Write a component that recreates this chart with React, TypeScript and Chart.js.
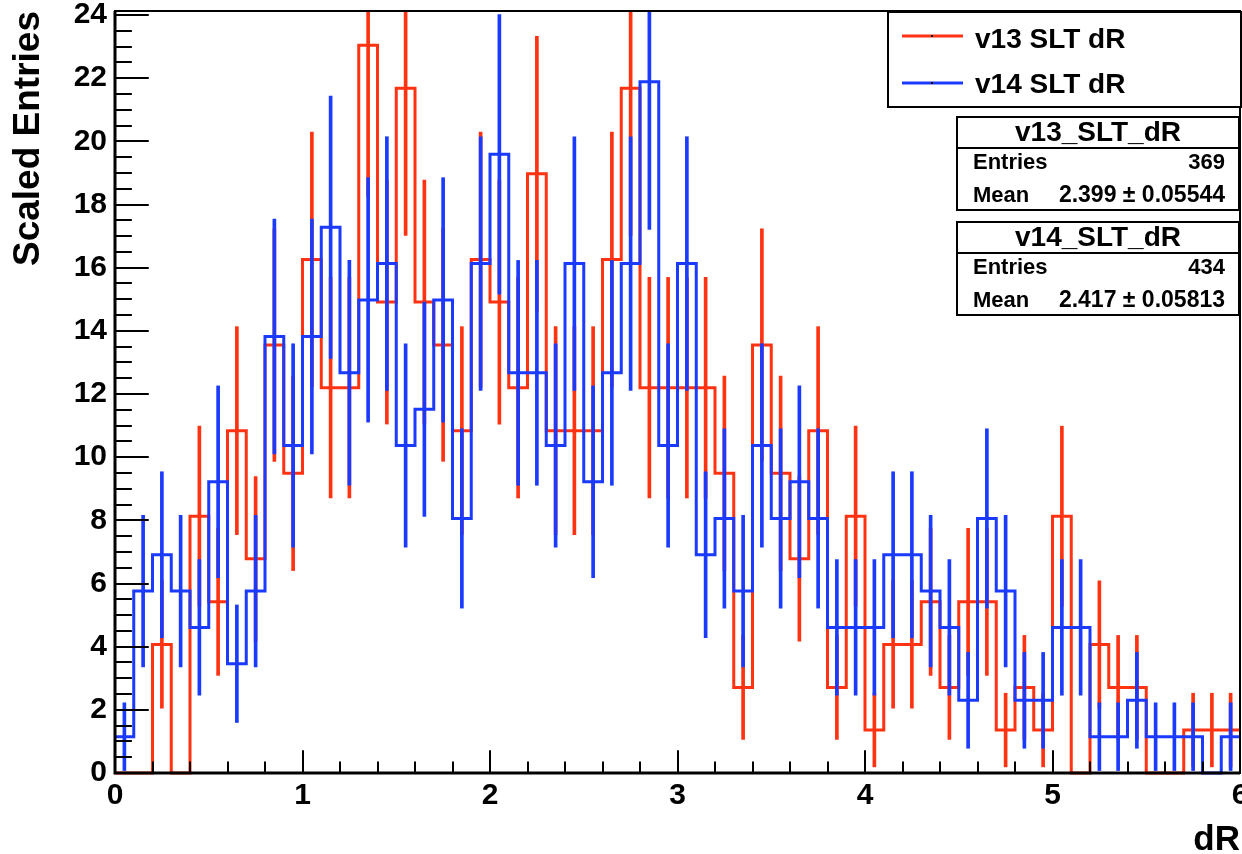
import React, { useEffect, useRef } from "react";
import { Chart, registerables } from "chart.js";

Chart.register(...registerables);

// ---- histogram binning ----
const binLow = 0;
const binWidth = 0.1;

// ---- scaled bin contents ----
const v13Values = [
  0, 0, 4.07, 0, 8.13, 5.42, 10.84, 6.78, 13.55, 9.49,
  16.26, 12.2, 12.2, 23.04, 14.91, 21.68, 14.91, 13.55, 10.84, 16.26,
  14.91, 12.2, 18.97, 10.84, 10.84, 10.84, 16.26, 21.68, 12.2, 12.2,
  12.2, 12.2, 9.49, 2.71, 13.55, 9.49, 6.78, 10.84, 2.71, 8.13,
  1.36, 4.07, 4.07, 5.42, 2.71, 5.42, 5.42, 1.36, 2.71, 1.36,
  8.13, 0, 4.07, 2.71, 2.71, 0, 0, 1.36, 1.36, 1.36,
];

const v14Values = [
  1.15, 5.76, 6.91, 5.76, 4.61, 9.22, 3.46, 5.76, 13.82, 10.37,
  13.82, 17.28, 12.67, 14.98, 16.13, 10.37, 11.52, 14.98, 8.06, 16.13,
  19.59, 12.67, 12.67, 10.37, 16.13, 9.22, 12.67, 16.13, 21.89, 10.37,
  16.13, 6.91, 8.06, 5.76, 10.37, 8.06, 9.22, 8.06, 4.61, 4.61,
  4.61, 6.91, 6.91, 5.76, 4.61, 2.3, 8.06, 5.76, 2.3, 2.3,
  4.61, 4.61, 1.15, 1.15, 2.3, 1.15, 1.15, 1.15, 0, 1.15,
];

const seriesLabels = ["v13 SLT dR", "v14 SLT dR"];
const seriesColors = ["#ff3311", "#1a3aff"];

const statsTitles = ["v13_SLT_dR", "v14_SLT_dR"];
const statsEntries = ["369", "434"];
const statsMeans = ["2.399 \u00b1 0.05544", "2.417 \u00b1 0.05813"];

const xTickValues = [0, 1, 2, 3, 4, 5, 6];
const yTickValues = [0, 2, 4, 6, 8, 10, 12, 14, 16, 18, 20, 22, 24];
const xMinorStep = 0.2;
const yMinorStep = 0.5;
const xRange = [0, 6];
const yRange = [0, 24.127];

const xTitle = "dR";
const yTitle = "Scaled Entries";

const FONT = '"Liberation Sans", Arial, Helvetica, sans-serif';

function stepData(values: number[]) {
  const pts = values.map((v, i) => ({ x: binLow + i * binWidth, y: v }));
  pts.push({ x: binLow + values.length * binWidth, y: values[values.length - 1] });
  return pts;
}

function errorData(values: number[]) {
  const out: { x: number; y: number[] }[] = [];
  values.forEach((v, i) => {
    if (v > 0) {
      const e = Math.sqrt(v);
      out.push({ x: binLow + (i + 0.5) * binWidth, y: [v - e, v + e] });
    }
  });
  return out;
}

const rootAxesPlugin = {
  id: "rootAxes",
  afterDatasetsDraw(chart: any) {
    const { ctx, chartArea: a } = chart;
    const xs = chart.scales.x;
    const ys = chart.scales.y;
    const w = a.right - a.left;
    const h = a.bottom - a.top;
    ctx.save();
    ctx.strokeStyle = "#000";
    ctx.lineWidth = 2;
    ctx.strokeRect(a.left, a.top, w, h);
    ctx.lineWidth = 3;
    ctx.beginPath();
    ctx.moveTo(a.left, a.top);
    ctx.lineTo(a.left, a.bottom);
    ctx.lineTo(a.right, a.bottom);
    ctx.stroke();

    ctx.lineWidth = 2;
    ctx.beginPath();
    const xMajorLen = 0.03 * h;
    const nx = Math.round((xRange[1] - xRange[0]) / xMinorStep);
    for (let i = 0; i <= nx; i++) {
      const v = xRange[0] + i * xMinorStep;
      const major = xTickValues.some((t) => Math.abs(t - v) < 1e-6);
      const px = Math.round(xs.getPixelForValue(v));
      ctx.moveTo(px, a.bottom);
      ctx.lineTo(px, a.bottom - (major ? xMajorLen : xMajorLen / 2));
    }
    const yMajorLen = 0.03 * w;
    const ny = Math.floor((yRange[1] - yRange[0]) / yMinorStep + 1e-6);
    for (let i = 0; i <= ny; i++) {
      const v = yRange[0] + i * yMinorStep;
      const major = yTickValues.some((t) => Math.abs(t - v) < 1e-6);
      const py = Math.round(ys.getPixelForValue(v));
      ctx.moveTo(a.left, py);
      ctx.lineTo(a.left + (major ? yMajorLen : yMajorLen / 2), py);
    }
    ctx.stroke();
    ctx.restore();
  },
  afterDraw(chart: any) {
    const { ctx, chartArea: a } = chart;
    ctx.save();
    ctx.strokeStyle = "#000";
    ctx.fillStyle = "#000";

    // legend box
    const lx = 888;
    const ly = 12;
    const lw = a.right + 1 - lx;
    const lh = 95;
    ctx.fillStyle = "#fff";
    ctx.fillRect(lx, ly, lw, lh);
    ctx.lineWidth = 2;
    ctx.strokeRect(lx, ly, lw, lh);
    const rowLine = [36, 83];
    const rowText = [40, 85];
    seriesLabels.forEach((lab, k) => {
      ctx.strokeStyle = seriesColors[k];
      ctx.lineWidth = 3;
      ctx.beginPath();
      ctx.moveTo(902, rowLine[k]);
      ctx.lineTo(963, rowLine[k]);
      ctx.stroke();
      ctx.fillStyle = "#000";
      ctx.fillRect(931, rowLine[k] - 1, 2, 2);
      ctx.font = `bold 28px ${FONT}`;
      ctx.textAlign = "left";
      ctx.textBaseline = "middle";
      ctx.fillText(lab, 975, rowText[k]);
    });

    // stats boxes
    statsTitles.forEach((title, k) => {
      const top = 117 + k * 105;
      const left = 957;
      const right = a.right - 1;
      const bh = 93;
      ctx.fillStyle = "#fff";
      ctx.fillRect(left, top, right - left, bh);
      ctx.strokeStyle = "#000";
      ctx.lineWidth = 2;
      ctx.strokeRect(left, top, right - left, bh);
      ctx.beginPath();
      ctx.moveTo(left, top + 31);
      ctx.lineTo(right, top + 31);
      ctx.stroke();
      ctx.fillStyle = "#000";
      ctx.textBaseline = "middle";
      ctx.font = `bold 28px ${FONT}`;
      ctx.textAlign = "center";
      ctx.fillText(title, (left + right) / 2, top + 16);
      ctx.font = `bold 22px ${FONT}`;
      ctx.textAlign = "left";
      ctx.fillText("Entries", left + 16, top + 46);
      ctx.fillText("Mean", left + 16, top + 79);
      ctx.textAlign = "right";
      ctx.fillText(statsEntries[k], right - 14, top + 46);
      ctx.font = `bold 23px ${FONT}`;
      ctx.fillText(statsMeans[k], right - 14, top + 79);
    });
    ctx.restore();
  },
};

export default function App() {
  const ref = useRef<HTMLCanvasElement>(null);

  useEffect(() => {
    if (!ref.current) return;
    Chart.defaults.font.family = FONT;
    const chart = new Chart(ref.current, {
      type: "line",
      data: {
        datasets: [
          {
            type: "line",
            label: seriesLabels[1],
            data: stepData(v14Values),
            borderColor: seriesColors[1],
            borderWidth: 3,
            stepped: "before",
            pointRadius: 0,
            fill: false,
            order: 0,
            clip: 2,
          } as any,
          {
            type: "bar",
            label: seriesLabels[1] + " err",
            data: errorData(v14Values),
            backgroundColor: seriesColors[1],
            borderWidth: 0,
            barThickness: 3,
            grouped: false,
            order: 1,
            clip: 0,
          } as any,
          {
            type: "line",
            label: seriesLabels[0],
            data: stepData(v13Values),
            borderColor: seriesColors[0],
            borderWidth: 3,
            stepped: "before",
            pointRadius: 0,
            fill: false,
            order: 2,
            clip: 2,
          } as any,
          {
            type: "bar",
            label: seriesLabels[0] + " err",
            data: errorData(v13Values),
            backgroundColor: seriesColors[0],
            borderWidth: 0,
            barThickness: 3,
            grouped: false,
            order: 3,
            clip: 0,
          } as any,
        ],
      },
      options: {
        responsive: false,
        animation: false,
        devicePixelRatio: 1,
        events: [],
        layout: { padding: { top: 11, right: 2, left: 0, bottom: 0 } },
        plugins: {
          legend: { display: false },
          tooltip: { enabled: false },
          title: { display: false },
        },
        scales: {
          x: {
            type: "linear",
            min: xRange[0],
            max: xRange[1],
            offset: false,
            afterBuildTicks: (s: any) => {
              s.ticks = xTickValues.map((v) => ({ value: v }));
            },
            afterFit: (s: any) => {
              s.height = 81;
              s.paddingLeft = 0;
              s.paddingRight = 0;
            },
            ticks: {
              font: { size: 30, weight: "bold" },
              color: "#000",
              padding: 5,
              maxRotation: 0,
              autoSkip: false,
            },
            grid: { display: false, drawTicks: false },
            border: { display: false },
            title: {
              display: true,
              text: xTitle,
              align: "end",
              color: "#000",
              font: { size: 35, weight: "bold", lineHeight: 0.8 },
              padding: 0,
            },
          },
          y: {
            type: "linear",
            min: yRange[0],
            max: yRange[1],
            afterBuildTicks: (s: any) => {
              s.ticks = yTickValues.map((v) => ({ value: v }));
            },
            afterFit: (s: any) => {
              s.width = 115;
              s.paddingTop = 0;
              s.paddingBottom = 0;
            },
            ticks: {
              font: { size: 30, weight: "bold" },
              color: "#000",
              padding: 8,
            },
            grid: { display: false, drawTicks: false },
            border: { display: false },
            title: {
              display: true,
              text: yTitle,
              align: "end",
              color: "#000",
              font: { size: 37, weight: "bold" },
              padding: { top: 7, bottom: 0 },
            },
          },
        },
      } as any,
      plugins: [rootAxesPlugin],
    });
    return () => chart.destroy();
  }, []);

  return (
    <div
      style={{
        position: "absolute",
        left: 0,
        top: 0,
        width: 1242,
        height: 854,
        background: "#fff",
      }}
    >
      <canvas
        ref={ref}
        width={1242}
        height={854}
        style={{ display: "block", width: 1242, height: 854 }}
      />
    </div>
  );
}
